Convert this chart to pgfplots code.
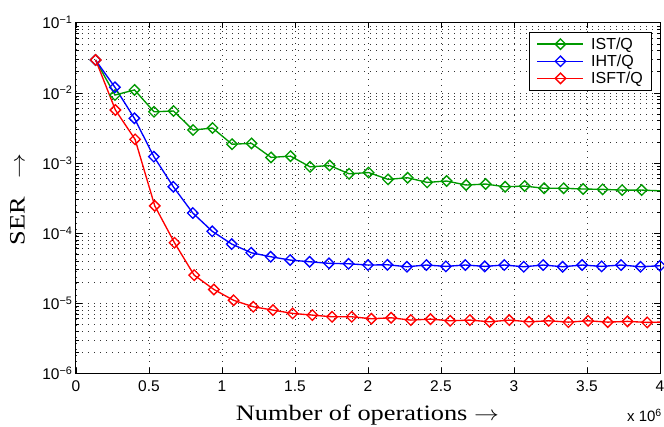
\documentclass[border=0pt]{standalone}
\usepackage{fontspec}
\usepackage{graphicx}
\usepackage{pgfplots}
\pgfplotsset{compat=1.18}
\newfontfamily\helv{Liberation Sans}
\newfontfamily\tms{Liberation Serif}
\definecolor{mgreen}{rgb}{0,0.6,0}
\begin{document}
\begin{tikzpicture}
\begin{axis}[
  scale only axis,
  width=584pt, height=350.6pt,
  xmin=0, xmax=4,
  ymode=log, ymin=1e-6, ymax=1e-1,
  xtick={0,0.5,1,1.5,2,2.5,3,3.5,4},
  xticklabels={0,0.5,1,1.5,2,2.5,3,3.5,4},
  ytick={1e-6,1e-5,1e-4,1e-3,1e-2,1e-1},
  yticklabels={10\textsuperscript{−6},10\textsuperscript{−5},10\textsuperscript{−4},10\textsuperscript{−3},10\textsuperscript{−2},10\textsuperscript{−1}},
  ticklabel style={font=\helv\fontsize{15.5}{18}\selectfont},
  xticklabel style={yshift=-4pt},
  grid=both,
  major grid style={black!80, line width=0.55pt, dash pattern=on 0.7pt off 5.3pt},
  minor grid style={black!80, line width=0.55pt, dash pattern=on 0.7pt off 5.3pt},
  tick style={black, line width=0.6pt},
  major tick length=5.8pt, minor tick length=3pt,
  axis line style={black, line width=1pt},
  every axis plot/.append style={line width=1.35pt},
  legend style={at={(axis description cs:0.9863,0.9726)}, anchor=north east,
    draw=black, line width=0.6pt, fill=white,
    font=\helv\fontsize{16}{19}\selectfont,
    inner xsep=7pt, inner ysep=3pt, column sep=5pt, row sep=0pt,
    nodes={inner sep=2pt}},
  legend cell align=left,
  legend image code/.code={\draw[mark repeat=2,mark phase=2,#1] plot coordinates {(0pt,0pt) (23pt,0pt) (46pt,0pt)};},
]
\coordinate (SW) at (rel axis cs:0,0);
\coordinate (NE) at (rel axis cs:1,1);

% IST/Q
\addplot[mgreen, mark=square, mark size=3.7pt, mark options={rotate=45, solid}] coordinates {
(0.1336,2.94e-2) (0.2672,9.3e-3) (0.4008,1.1e-2) (0.5344,5.37e-3) (0.6680,5.5e-3)
(0.8016,2.95e-3) (0.9352,3.15e-3) (1.0688,1.85e-3) (1.2024,1.9e-3) (1.3360,1.2e-3)
(1.4696,1.25e-3) (1.6032,8.8e-4) (1.7368,9.2e-4) (1.8704,7.0e-4) (2.0040,7.3e-4)
(2.1376,5.83e-4) (2.2712,6.15e-4) (2.4048,5.28e-4) (2.5384,5.52e-4) (2.6720,4.84e-4)
(2.8056,5.0e-4) (2.9392,4.57e-4) (3.0728,4.68e-4) (3.2064,4.35e-4) (3.3400,4.35e-4)
(3.4736,4.25e-4) (3.6072,4.2e-4) (3.7408,4.1e-4) (3.8744,4.1e-4)};
\addlegendentry{IST/Q}
% IHT/Q
\addplot[blue, mark=square, mark size=3.7pt, mark options={rotate=45, solid}] coordinates {
(0.1333,2.94e-2) (0.2667,1.2e-2) (0.4000,4.33e-3) (0.5333,1.23e-3) (0.6667,4.57e-4)
(0.8000,1.93e-4) (0.9333,1.06e-4) (1.0667,6.97e-5) (1.2000,5.24e-5) (1.3333,4.6e-5)
(1.4667,4.12e-5) (1.6000,3.9e-5) (1.7333,3.7e-5) (1.8667,3.65e-5) (2.0000,3.5e-5)
(2.1333,3.53e-5) (2.2667,3.31e-5) (2.4000,3.5e-5) (2.5333,3.35e-5) (2.6667,3.5e-5)
(2.8000,3.35e-5) (2.9333,3.5e-5) (3.0667,3.31e-5) (3.2000,3.5e-5) (3.3333,3.31e-5)
(3.4667,3.5e-5) (3.6000,3.35e-5) (3.7333,3.5e-5) (3.8667,3.31e-5) (4.0000,3.42e-5)};
\addlegendentry{IHT/Q}
% ISFT/Q
\addplot[red, mark=square, mark size=3.7pt, mark options={rotate=45, solid}] coordinates {
(0.1349,2.94e-2) (0.2698,5.69e-3) (0.4047,2.17e-3) (0.5396,2.44e-4) (0.6745,7.28e-5)
(0.8094,2.51e-5) (0.9443,1.57e-5) (1.0792,1.1e-5) (1.2141,8.89e-6) (1.3490,7.97e-6)
(1.4839,7.15e-6) (1.6188,6.76e-6) (1.7537,6.4e-6) (1.8886,6.4e-6) (2.0235,6.0e-6)
(2.1584,6.19e-6) (2.2933,5.74e-6) (2.4282,5.93e-6) (2.5631,5.61e-6) (2.6980,5.74e-6)
(2.8329,5.43e-6) (2.9678,5.74e-6) (3.1027,5.43e-6) (3.2376,5.61e-6) (3.3725,5.37e-6)
(3.5074,5.61e-6) (3.6423,5.37e-6) (3.7772,5.5e-6) (3.9121,5.32e-6)};
\addlegendentry{ISFT/Q}
% line continuations beyond last marker (clipped at the axis edge)
\addplot[mgreen, forget plot] coordinates {(3.8744,4.1e-4) (4.008,4.0e-4)};
\addplot[red, forget plot] coordinates {(3.9121,5.32e-6) (4.047,5.4e-6)};
\end{axis}
\node[anchor=base, font=\tms\fontsize{22}{26}\selectfont] at ([xshift=291.4pt,yshift=-47.4pt]SW)
  {\scalebox{1.2}[1]{Number of operations $\rightarrow$}};
\node[anchor=center, rotate=90, font=\tms\fontsize{22}{26}\selectfont] at ([xshift=-58.5pt,yshift=173.9pt]SW)
  {\scalebox{1.2}[1]{SER\hspace{15pt}$\rightarrow$}};
\node[anchor=base east, inner sep=0pt, font=\helv\fontsize{15}{18}\selectfont] at ([xshift=2pt,yshift=-48.4pt]SW -| NE)
  {x 10\textsuperscript{6}};
\pgfresetboundingbox
\path[use as bounding box] ([xshift=-76pt,yshift=-52.7pt]SW) rectangle ([xshift=4pt,yshift=22.7pt]NE);
\end{tikzpicture}
\end{document}
